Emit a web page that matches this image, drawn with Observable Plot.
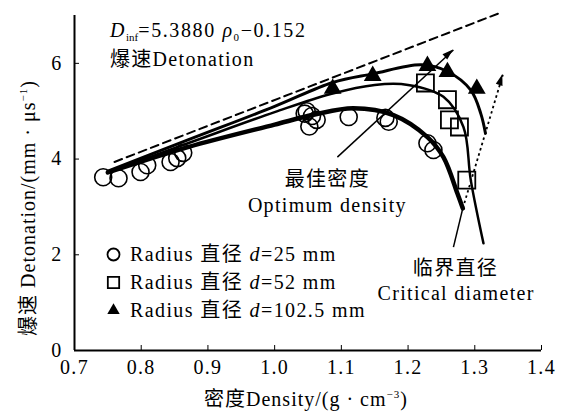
<!DOCTYPE html>
<html><head><meta charset="utf-8">
<script src="https://cdn.jsdelivr.net/npm/d3@7"></script>
<script src="https://cdn.jsdelivr.net/npm/@observablehq/plot@0.6"></script>
<style>body{margin:0;background:#fff} svg{display:block}</style>
</head><body><div id="chart"></div>
<script>
const xTicks = [0.7, 0.8, 0.9, 1.0, 1.1, 1.2, 1.3, 1.4];
const yTicks = [0, 2, 4, 6];

// measured points
const pts25 = [[0.743,3.62],[0.766,3.60],[0.799,3.73],[0.809,3.87],[0.844,3.94],[0.854,4.02],[0.863,4.13],
  [1.045,4.95],[1.052,4.68],[1.056,4.90],[1.063,4.82],[1.048,5.00],[1.111,4.88],[1.166,4.86],[1.171,4.78],[1.229,4.33],[1.238,4.19]];
const pts52 = [[1.226,5.59],[1.259,5.24],[1.262,4.82],[1.277,4.67],[1.288,3.56]];
const pts102 = [[1.087,5.47],[1.147,5.74],[1.229,5.95],[1.259,5.82],[1.303,5.47]];

// fitted curves
const fit25 = [[0.75,3.72],[0.87,4.25],[1.0,4.72],[1.06,4.93],[1.118,5.06],[1.178,4.92],[1.229,4.46],[1.253,4.04],[1.274,3.28],[1.282,2.97]];
const fit52 = [[0.75,3.73],[0.87,4.33],[1.0,4.98],[1.084,5.36],[1.15,5.55],[1.2,5.55],[1.253,5.30],[1.283,4.67],[1.294,3.56],[1.313,2.24]];
const fit102 = [[0.75,3.75],[0.87,4.40],[1.0,5.10],[1.087,5.60],[1.147,5.78],[1.22,5.97],[1.259,5.83],[1.294,5.44],[1.309,4.95],[1.316,4.54]];
const dinf = [[0.76,3.94],[1.335,7.04]];

// annotation arrows / leader lines
const arrows = [{x1:1.094,y1:4.04,x2:1.268,y2:6.28,dash:null}];
const dottedArrows = [{x1:1.282,y1:2.97,x2:1.342,y2:5.76}];
const leaders = [{x1:1.268,y1:2.16,x2:1.282,y2:2.97}];

const annotations = [
  {x:1.079, y:3.58, text:"最佳密度"},
  {x:1.079, y:3.02, text:"Optimum density"},
  {x:1.271, y:1.72, text:"临界直径"},
  {x:1.272, y:1.19, text:"Critical diameter"}
];

const legend = [
  {label:"d=25 mm", symbol:"circle", fill:"none", r:6},
  {label:"d=52 mm", symbol:"square", fill:"none", r:6.4},
  {label:"d=102.5 mm", symbol:"triangle", fill:"black", r:4.6}
];

const FONT = "'Liberation Serif','Times New Roman','Noto Sans CJK SC',serif";
const xy = d => ({x: d[0], y: d[1]});

const plot = Plot.plot({
  width: 563, height: 413,
  marginLeft: 74, marginRight: 22, marginTop: 15, marginBottom: 63,
  style: {fontFamily: FONT, fontSize: "20px", letterSpacing: "1.3px", color: "black", background: "white"},
  x: {domain: [0.7, 1.4], ticks: xTicks, tickFormat: d3.format(".1f"), label: null, tickSize: -5, tickPadding: 14},
  y: {domain: [0, 7], ticks: yTicks, tickFormat: d => String(d), label: null, tickSize: -5, tickPadding: 17},
  marks: [
    Plot.ruleX([0.7], {strokeWidth: 2}),
    Plot.ruleY([0], {strokeWidth: 2}),
    Plot.line(dinf.map(xy), {x:"x", y:"y", strokeWidth: 2, strokeDasharray: "8,5"}),
    Plot.line(fit25.map(xy), {x:"x", y:"y", strokeWidth: 4.5, curve: "catmull-rom"}),
    Plot.line(fit52.map(xy), {x:"x", y:"y", strokeWidth: 2.5, curve: "catmull-rom"}),
    Plot.line(fit102.map(xy), {x:"x", y:"y", strokeWidth: 3, curve: "catmull-rom"}),
    Plot.dot(pts25.map(xy), {x:"x", y:"y", r: 8.5, symbol: "circle", stroke: "black", strokeWidth: 1.6, fill: "none"}),
    Plot.dot(pts52.map(xy), {x:"x", y:"y", r: 9.6, symbol: "square", stroke: "black", strokeWidth: 1.8, fill: "none"}),
    Plot.dot(pts102.map(xy), {x:"x", y:"y", r: 6.6, symbol: "triangle", fill: "black", stroke: "none"}),
    Plot.link(arrows, {x1:"x1", y1:"y1", x2:"x2", y2:"y2", strokeWidth: 1.5}),
    Plot.link(dottedArrows, {x1:"x1", y1:"y1", x2:"x2", y2:"y2", strokeWidth: 1.8, strokeDasharray: "2.5,3"}),
    Plot.link(leaders, {x1:"x1", y1:"y1", x2:"x2", y2:"y2", strokeWidth: 1.5}),
    Plot.text(annotations, {x:"x", y:"y", text:"text", fontSize: 20}),
    ...legend.map((d, i) => Plot.dot([d], {frameAnchor: "top-left", dx: 39, dy: 239 + 28 * i, symbol: d.symbol, r: d.r, fill: d.fill, stroke: d.fill === "none" ? "black" : "none", strokeWidth: 1.8}))
  ]
});

const svg = d3.select(plot);
// filled arrowheads at the tips of the arrow links, placed through the plot's scales
const sx = plot.scale("x"), sy = plot.scale("y");
[...arrows, ...dottedArrows].forEach(a => {
  const X1 = sx.apply(a.x1), Y1 = sy.apply(a.y1), X2 = sx.apply(a.x2), Y2 = sy.apply(a.y2);
  const ang = Math.atan2(Y2 - Y1, X2 - X1), L = 11, W = 3.5;
  const bx = X2 - L * Math.cos(ang), by = Y2 - L * Math.sin(ang);
  const px = -Math.sin(ang) * W, py = Math.cos(ang) * W;
  svg.append("path").attr("d", `M${X2},${Y2}L${bx + px},${by + py}L${bx - px},${by - py}Z`).attr("fill", "black");
});

const addText = (x, y) => svg.append("text").attr("x", x).attr("y", y)
  .attr("text-anchor", "start").attr("font-family", FONT).attr("font-size", 20).attr("letter-spacing", "1.3px");
// legend labels
legend.forEach((d, i) => {
  const t = addText(130, 254 + 28 * i).attr("dy", "0.35em").attr("letter-spacing", "1.4px");
  t.append("tspan").text("Radius 直径 ");
  t.append("tspan").attr("font-style", "italic").text("d");
  t.append("tspan").text(d.label.slice(1));
});
// formula
const f = addText(110, 37).attr("letter-spacing", "1.6px");
f.append("tspan").attr("font-style", "italic").text("D");
f.append("tspan").attr("font-size", 11).attr("dy", 4).attr("letter-spacing", "0px").text("inf");
f.append("tspan").attr("dy", -4).text("=5.3880 ");
f.append("tspan").attr("font-style", "italic").text("ρ");
f.append("tspan").attr("font-size", 11).attr("dy", 4).text("0");
f.append("tspan").attr("dy", -4).text("−0.152");
addText(110, 66).text("爆速Detonation");
// x title
const xt = addText(306, 406).attr("text-anchor", "middle").attr("letter-spacing", "1px");
xt.append("tspan").text("密度Density/(g · cm");
xt.append("tspan").attr("font-size", 11).attr("dy", -8).text("−3");
xt.append("tspan").attr("dy", 8).text(")");
// y title
const yt = addText(0, 0).attr("transform", "translate(35,208) rotate(-90)").attr("text-anchor", "middle").attr("letter-spacing", "1px");
yt.append("tspan").text("爆速 Detonation/(mm · μs");
yt.append("tspan").attr("font-size", 11).attr("dy", -8).text("−1");
yt.append("tspan").attr("dy", 8).text(")");

document.getElementById("chart").append(plot);
</script></body></html>
